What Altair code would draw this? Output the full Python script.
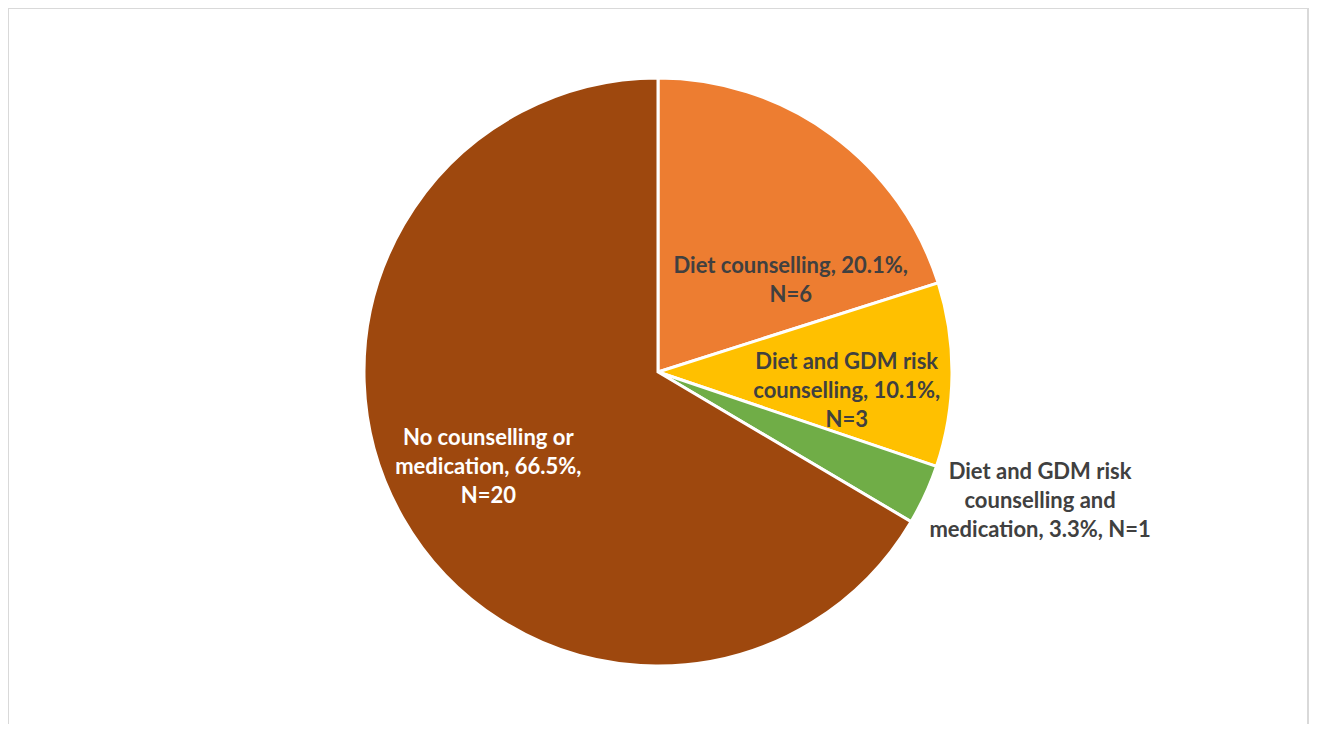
import altair as alt
import pandas as pd
import math

categories = [
    "Diet counselling",
    "Diet and GDM risk counselling",
    "Diet and GDM risk counselling and medication",
    "No counselling or medication",
]
percent = [20.1, 10.1, 3.3, 66.5]
counts = [6, 3, 1, 20]
labels = [
    "Diet counselling, 20.1%,\nN=6",
    "Diet and GDM risk\ncounselling, 10.1%,\nN=3",
    "Diet and GDM risk\ncounselling and\nmedication, 3.3%, N=1",
    "No counselling or\nmedication, 66.5%,\nN=20",
]
colors = ["#ED7D31", "#FFC000", "#70AD47", "#9E480E"]
label_colors = ["#404040", "#404040", "#404040", "#FFFFFF"]
# label placement (style): angle in degrees clockwise from 12 o'clock, distance from centre in px
label_angle = [51.3, 87.0, 104.7, 248.8]
label_radius = [170, 189, 395, 182]

df = pd.DataFrame({
    "category": categories,
    "percent": percent,
    "count": counts,
    "order": list(range(len(categories))),
})
lab = pd.DataFrame({
    "label": labels,
    "lc": label_colors,
    "ang": [math.radians(a) for a in label_angle],
    "rad": label_radius,
})

CX, CY = 650, 364

pie = alt.Chart(df).mark_arc(radius=294, stroke="white", strokeWidth=3).encode(
    theta=alt.Theta("percent:Q", stack=True),
    order=alt.Order("order:Q"),
    color=alt.Color("category:N", scale=alt.Scale(domain=categories, range=colors), legend=None),
    x=alt.value(CX),
    y=alt.value(CY),
)

text = alt.Chart(lab).mark_text(
    font="Lato", fontWeight="bold", fontSize=22, lineBreak="\n", lineHeight=29,
    align="center", baseline="middle",
).encode(
    theta=alt.Theta("ang:Q", scale=None),
    radius=alt.Radius("rad:Q", scale=None),
    text="label:N",
    color=alt.Color("lc:N", scale=None),
    x=alt.value(CX),
    y=alt.value(CY),
)

bdf = pd.DataFrame({"k": [0]})
border_c = "#D9D9D9"
top = alt.Chart(bdf).mark_rule(color=border_c, strokeWidth=2).encode(
    x=alt.value(0), x2=alt.value(1301), y=alt.value(0))
left = alt.Chart(bdf).mark_rule(color=border_c, strokeWidth=2).encode(
    x=alt.value(0), y=alt.value(0), y2=alt.value(740))
right = alt.Chart(bdf).mark_rule(color=border_c, strokeWidth=2).encode(
    x=alt.value(1300), y=alt.value(0), y2=alt.value(740))

chart = alt.layer(pie, text, top, left, right).properties(
    width=1301, height=716,
    autosize=alt.AutoSizeParams(type="none"),
    padding={"left": 0, "top": 0, "right": 0, "bottom": 0},
).configure_view(stroke=None)

chart.save("out.html", embed_options={"renderer": "svg", "actions": False})
